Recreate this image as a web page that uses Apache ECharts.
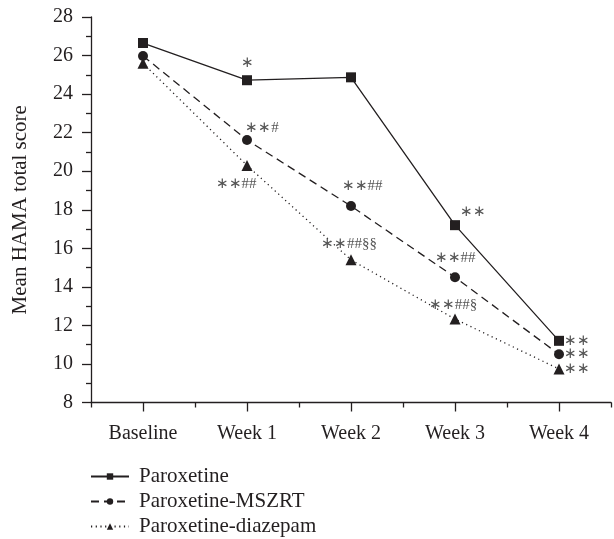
<!DOCTYPE html>
<html>
<head>
<meta charset="utf-8">
<script src="https://cdn.jsdelivr.net/npm/echarts@6/dist/echarts.min.js"></script>
<style>
  html, body { margin: 0; padding: 0; background: #fff; }
  #chart { width: 614px; height: 539px; }
</style>
</head>
<body>
<div id="chart"></div>
<script>
// time points
var weeks = ['Baseline', 'Week 1', 'Week 2', 'Week 3', 'Week 4'];

// mean HAMA total score per group
var paroxetine = [26.65, 24.72, 24.87, 17.2, 11.2];
var mszrt = [25.98, 21.62, 18.19, 14.5, 10.5];
var diazepam = [25.6, 20.3, 15.4, 12.33, 9.74];

// significance marks per point
var paroxetineMarks = ['', '\u2217', '', '\u2217\u2217', '\u2217\u2217'];
var mszrtMarks = ['', '\u2217\u2217#', '\u2217\u2217##', '\u2217\u2217##', '\u2217\u2217'];
var diazepamMarks = ['', '\u2217\u2217##', '\u2217\u2217##\u00a7\u00a7', '\u2217\u2217##\u00a7', '\u2217\u2217'];

// y axis ticks
var yMin = 8, yMax = 28, yStep = 2;

var ink = '#231f20';
var serif = 'Liberation Serif';

// where each mark sits relative to its point (px)
var paroxetineOffs = [null, [0, -17], null, [18, -13], [18, 0]];
var mszrtOffs = [null, [15, -12], [11, -20], [0, -19], [18, 0]];
var diazepamOffs = [null, [-11, 19], [-2, -16], [-2, -14], [18, 0]];

function buildData(values, marks, offs) {
    var out = [];
    for (var i = 0; i < values.length; i++) {
        var item = { value: values[i] };
        if (marks[i]) {
            item.label = {
                show: true,
                position: 'inside',
                offset: offs[i],
                formatter: marks[i]
            };
        }
        out.push(item);
    }
    return out;
}

function makeSeries(name, values, marks, offs, symbol, size, lineType) {
    return {
        name: name,
        type: 'line',
        xAxisIndex: 0,
        data: buildData(values, marks, offs),
        symbol: symbol,
        symbolSize: size,
        showAllSymbol: true,
        itemStyle: { color: ink },
        lineStyle: { color: ink, width: 1.3, type: lineType },
        label: {
            color: '#555',
            fontFamily: serif,
            fontSize: 15
        },
        emphasis: { disabled: true },
        animation: false,
        z: 3
    };
}

var myChart = echarts.init(document.getElementById('chart'));
var option = {
    backgroundColor: '#fff',
    animation: false,
    grid: { left: 91, right: 3, top: 17, bottom: 136.5, containLabel: false },
    legend: {
        orient: 'vertical',
        left: 90,
        top: 466,
        height: 80,
        padding: 0,
        itemWidth: 38,
        itemHeight: 8,
        itemGap: 4,
        textStyle: { fontFamily: serif, fontSize: 21, color: ink, lineHeight: 20, padding: [0, 0, 0, 5] },
        data: ['Paroxetine', 'Paroxetine-MSZRT', 'Paroxetine-diazepam']
    },
    xAxis: [
        {       // labels and centre ticks
            type: 'category',
            data: weeks,
            position: 'bottom',
            boundaryGap: true,
            axisLine: { show: true, lineStyle: { color: ink, width: 1.3 } },
            axisTick: { show: true, alignWithLabel: true, length: 9, lineStyle: { color: ink, width: 1.3 } },
            axisLabel: { color: ink, fontFamily: serif, fontSize: 20, margin: 21 },
            splitLine: { show: false }
        },
        {       // short ticks between categories
            type: 'category',
            data: weeks,
            position: 'bottom',
            boundaryGap: true,
            axisLine: { show: false },
            axisTick: { show: true, length: 5, lineStyle: { color: ink, width: 1.3 } },
            axisLabel: { show: false },
            splitLine: { show: false }
        }
    ],
    yAxis: {
        type: 'value',
        min: yMin,
        max: yMax,
        interval: yStep,
        name: 'Mean HAMA total score',
        nameLocation: 'middle',
        nameGap: 60,
        nameTextStyle: { color: ink, fontFamily: serif, fontSize: 21 },
        axisLine: { show: true, lineStyle: { color: ink, width: 1.3 } },
        axisTick: { show: true, length: 9, lineStyle: { color: ink, width: 1.3 } },
        minorTick: { show: true, splitNumber: 2, length: 5, lineStyle: { color: ink, width: 1.3 } },
        axisLabel: { color: ink, fontFamily: serif, fontSize: 20, margin: 18 },
        splitLine: { show: false }
    },
    series: [
        makeSeries('Paroxetine', paroxetine, paroxetineMarks, paroxetineOffs, 'rect', 10, 'solid'),
        makeSeries('Paroxetine-MSZRT', mszrt, mszrtMarks, mszrtOffs, 'circle', 10, [8, 5]),
        makeSeries('Paroxetine-diazepam', diazepam, diazepamMarks, diazepamOffs, 'triangle', 11, [1.2, 3.5])
    ]
};
myChart.setOption(option);
</script>
</body>
</html>
